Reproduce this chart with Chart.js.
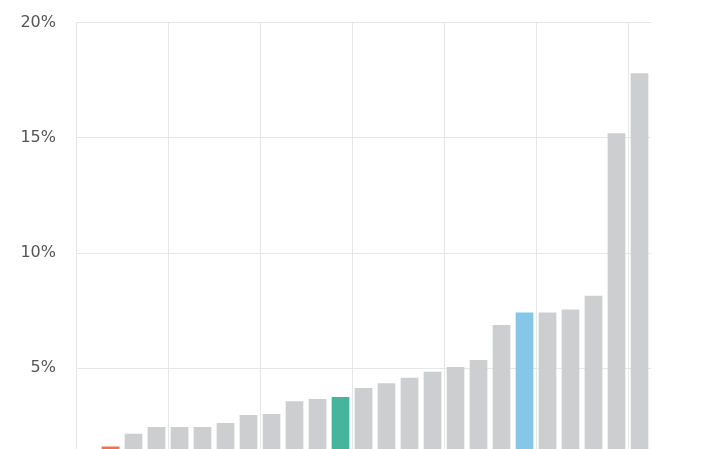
<!DOCTYPE html>
<html lang="en">
<head>
    <meta charset="UTF-8">
    <title>Share chart</title>
    <script src="https://cdn.jsdelivr.net/npm/chart.js"></script>
<style>
    body {
        margin: 0;
        overflow: hidden;
        background: #fff;
    }

    .chart-box {
        width: 707px;
        height: 520px;
        margin-top: -7px;
    }</style>
</head>
<body>
<div class="chart-box">
<canvas id="myChart" width="707" height="520"></canvas>
</div>

<script>
    // categories (x labels are not shown in the picture)
    const categories = ['1','2','3','4','5','6','7','8','9','10','11','12','13',
        '14','15','16','17','18','19','20','21','22','23','24','25'];
    // values in percent (first one is not visible)
    const shareValues = [null, 1.6, 2.15, 2.45, 2.45, 2.45, 2.62, 2.97, 3.01, 3.57, 3.66, 3.75,
        4.14, 4.35, 4.59, 4.85, 5.05, 5.36, 6.88, 7.42, 7.42, 7.55, 8.14, 15.2, 17.8];
    const yTicks = [0, 5, 10, 15, 20];

    // highlighted bars
    const highlightColors = { 1: '#f36f51', 11: '#45b59e', 19: '#86c6e8' };
    const baseColor = '#cdcecf';

    function getBarColors(values) {
        return values.map((v, i) => highlightColors[i] || baseColor);
    }

    const ctx = document.getElementById('myChart').getContext('2d');
    const shareChart = new Chart(ctx, {
        type: 'bar',
        data: {
            labels: categories,
            datasets: [{
                data: shareValues,
                backgroundColor: getBarColors(shareValues),
                borderWidth: 0,
                categoryPercentage: 1,
                barPercentage: 0.77
            }]
        },
        options: {
            responsive: false,
            animation: false,
            layout: {
                padding: { top: 13, right: 56, bottom: 8, left: 0 }
            },
            plugins: {
                legend: { display: false },
                tooltip: { enabled: false }
            },
            scales: {
                x: {
                    ticks: { display: false },
                    border: { display: false },
                    grid: {
                        offset: true,
                        drawTicks: false,
                        lineWidth: 1,
                        color: c => (c.index % 4 === 0 && c.index < 25) ? '#e6e6e6' : 'rgba(0,0,0,0)'
                    }
                },
                y: {
                    min: yTicks[0],
                    max: yTicks[yTicks.length - 1],
                    afterFit: scale => { scale.width = 76; },
                    afterBuildTicks: scale => { scale.ticks = yTicks.map(v => ({ value: v })); },
                    border: { display: false },
                    grid: {
                        drawTicks: false,
                        color: '#e6e6e6'
                    },
                    ticks: {
                        padding: 20,
                        color: '#555555',
                        font: { family: 'DejaVu Sans', size: 16 },
                        callback: v => v + '%'
                    }
                }
            }
        }
    });
</script>

</body>
</html>
